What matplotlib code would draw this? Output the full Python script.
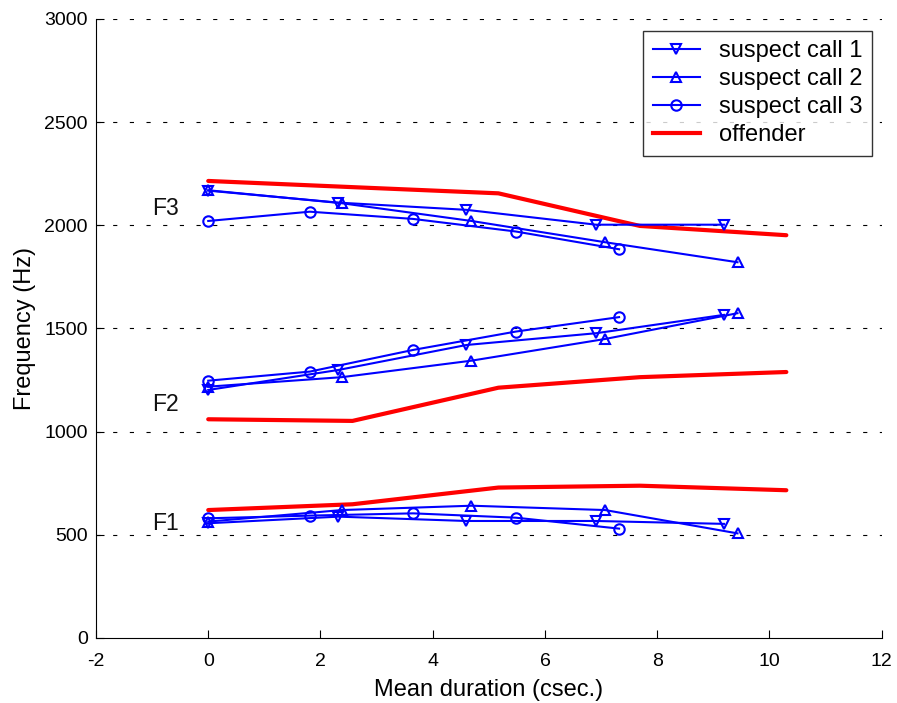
import matplotlib
matplotlib.use("Agg")
import matplotlib.pyplot as plt
from matplotlib.lines import Line2D

plt.rcParams['font.family'] = ['Liberation Sans', 'DejaVu Sans']
plt.rcParams['axes.unicode_minus'] = False

# x positions (mean duration, csec.)
x_call1 = [0, 2.32, 4.60, 6.91, 9.19]
x_call2 = [0, 2.38, 4.69, 7.07, 9.43]
x_call3 = [0, 1.81, 3.65, 5.48, 7.32]
x_offender = [0, 2.57, 5.17, 7.69, 10.30]

# Formant frequencies (Hz)
call1_F1 = [556, 588, 567, 567, 553]
call1_F2 = [1202, 1299, 1420, 1477, 1566]
call1_F3 = [2168, 2110, 2075, 2003, 2003]

call2_F1 = [564, 620, 641, 620, 507]
call2_F2 = [1218, 1264, 1344, 1449, 1574]
call2_F3 = [2170, 2107, 2021, 1918, 1821]

call3_F1 = [580, 593, 604, 583, 530]
call3_F2 = [1247, 1291, 1396, 1485, 1555]
call3_F3 = [2021, 2066, 2031, 1970, 1884]

offender_F1 = [620, 648, 729, 738, 716]
offender_F2 = [1060, 1052, 1213, 1264, 1289]
offender_F3 = [2215, 2185, 2155, 1997, 1952]

series_labels = ['suspect call 1', 'suspect call 2', 'suspect call 3', 'offender']
formant_labels = ['F1', 'F2', 'F3']
formant_label_y = [553, 1130, 2080]

fig = plt.figure(figsize=(8.97, 7.03), dpi=100)
ax = fig.add_axes([0.107, 0.0925, 0.876, 0.8805])

blue = '#0000ff'
red = '#ff0000'

for ys in (offender_F1, offender_F2, offender_F3):
    ax.plot(x_offender, ys, color=red, lw=3, zorder=2, solid_capstyle='round')

mk = dict(markersize=7.5, markerfacecolor='none', markeredgewidth=1.5, color=blue, lw=1.5, zorder=3)
for ys in (call1_F1, call1_F2, call1_F3):
    ax.plot(x_call1, ys, marker='v', **mk)
for ys in (call2_F1, call2_F2, call2_F3):
    ax.plot(x_call2, ys, marker='^', **mk)
for ys in (call3_F1, call3_F2, call3_F3):
    ax.plot(x_call3, ys, marker='o', **mk)

for lab, yv in zip(formant_labels, formant_label_y):
    ax.text(-0.77, yv, lab, fontsize=16.5, ha='center', va='center', color='#111111')

ax.set_xlim(-2, 12)
ax.set_ylim(0, 3000)
ax.set_xticks(range(-2, 13, 2))
ax.set_yticks(range(0, 3001, 500))

ax.spines['top'].set_visible(False)
ax.spines['right'].set_visible(False)
ax.tick_params(direction='in', length=6, labelsize=14, width=0.8)
ax.tick_params(axis='x', pad=11)
ax.tick_params(axis='y', pad=6)

for yv in range(500, 3001, 500):
    ax.axhline(yv, color='black', lw=0.8, linestyle=(0, (3.75, 11.25)), zorder=1)

ax.set_xlabel('Mean duration (csec.)', fontsize=17, labelpad=6)
ax.set_ylabel('Frequency (Hz)', fontsize=17, labelpad=6)

handles = [
    Line2D([], [], marker='v', **mk),
    Line2D([], [], marker='^', **mk),
    Line2D([], [], marker='o', **mk),
    Line2D([], [], color=red, lw=3),
]
leg = ax.legend(handles, series_labels, loc='upper right', bbox_to_anchor=(0.9875, 0.9806),
                fontsize=17, frameon=True, fancybox=False, edgecolor='black',
                handlelength=2.0, handletextpad=0.8, labelspacing=0.25, borderpad=0.4,
                borderaxespad=0.0)
leg.get_frame().set_linewidth(1.0)

fig.savefig('out.png', dpi=100)
